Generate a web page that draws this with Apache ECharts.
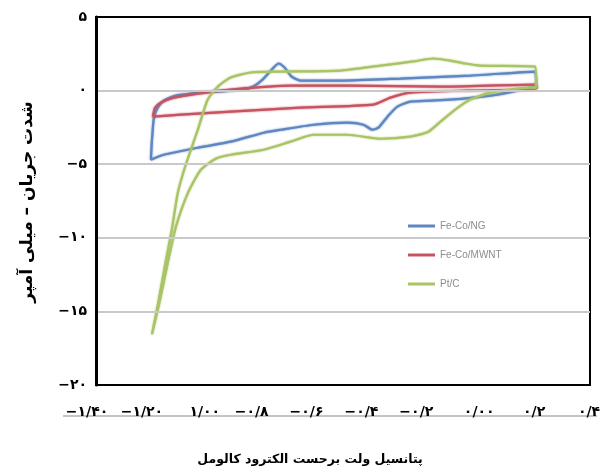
<!DOCTYPE html>
<html>
<head>
<meta charset="utf-8">
<script src="https://cdn.jsdelivr.net/npm/echarts@6/dist/echarts.min.js"></script>
<style>
  html, body { margin: 0; padding: 0; background: #ffffff; }
  #chart { width: 608px; height: 475px; }
</style>
</head>
<body>
<div id="chart"></div>
<script>
// Cyclic voltammograms: potential (V vs. SCE) against current (mA)
const seriesNames = ['Fe-Co/NG', 'Fe-Co/MWNT', 'Pt/C'];

const feCoNG = [
  [-1.200, -4.70], [-1.196, -3.34], [-1.189, -1.84], [-1.175, -1.16], [-1.153, -0.68],
  [-1.109, -0.34], [-1.018, -0.14], [-0.909, 0.00], [-0.836, 0.20], [-0.793, 0.75],
  [-0.756, 1.50], [-0.735, 1.84], [-0.713, 1.57], [-0.687, 0.95], [-0.655, 0.68],
  [-0.509, 0.68], [-0.291, 0.82], [-0.036, 1.02], [0.200, 1.29], [0.204, 0.34],
  [0.182, 0.20], [0.062, -0.27], [-0.062, -0.54], [-0.182, -0.68], [-0.255, -0.75],
  [-0.302, -1.09], [-0.338, -1.77], [-0.371, -2.52], [-0.393, -2.66], [-0.425, -2.32],
  [-0.484, -2.18], [-0.607, -2.32], [-0.727, -2.66], [-0.789, -2.86], [-0.909, -3.47],
  [-1.029, -3.88], [-1.153, -4.36], [-1.200, -4.70]
];

const feCoMWNT = [
  [-1.193, -1.77], [-1.185, -1.16], [-1.164, -0.82], [-1.116, -0.48], [-1.029, -0.20],
  [-0.909, 0.07], [-0.691, 0.34], [-0.473, 0.34], [-0.145, 0.27], [0.200, 0.41],
  [0.207, 0.20], [0.182, 0.07], [-0.047, 0.00], [-0.255, -0.14], [-0.327, -0.48],
  [-0.389, -0.95], [-0.655, -1.16], [-0.909, -1.43], [-1.091, -1.63], [-1.193, -1.77]
];

const ptC = [
  [-1.196, -16.55], [-1.175, -14.58], [-1.145, -11.51], [-1.124, -9.47], [-1.102, -6.95],
  [-1.073, -5.04], [-1.029, -2.66], [-0.993, -0.61], [-0.956, 0.27], [-0.909, 0.89],
  [-0.836, 1.23], [-0.738, 1.29], [-0.509, 1.36], [-0.364, 1.70], [-0.244, 1.98],
  [-0.171, 2.18], [-0.109, 2.04], [-0.055, 1.84], [0.000, 1.70], [0.200, 1.63],
  [0.204, 0.20], [0.182, 0.20], [0.036, -0.14], [-0.036, -0.61], [-0.091, -1.29],
  [-0.145, -2.11], [-0.189, -2.79], [-0.255, -3.13], [-0.364, -3.27], [-0.484, -3.00],
  [-0.607, -3.00], [-0.691, -3.47], [-0.789, -4.02], [-0.909, -4.36], [-0.964, -4.63],
  [-1.018, -5.38], [-1.065, -6.95], [-1.109, -9.26], [-1.138, -11.65], [-1.171, -14.58],
  [-1.196, -16.55]
];

const xTicks = [-1.4, -1.2, -1.0, -0.8, -0.6, -0.4, -0.2, 0.0, 0.2, 0.4];
const xTickLabels = ['−۱/۴۰', '−۱/۲۰', '۱/۰۰', '−۰/۸', '−۰/۶', '−۰/۴', '−۰/۲', '۰/۰۰', '۰/۲', '۰/۴'];
const yTicks = [5, 0, -5, -10, -15, -20];
const yTickLabels = ['۵', '۰', '−۵', '−۱۰', '−۱۵', '−۲۰'];

const xTitle = 'پتانسیل ولت برحست الکترود کالومل';
const yTitle = 'شدت جریان – میلی آمپر';

const lineColors = ['#5e87c2', '#c65460', '#a9c466'];

function tickIndex(ticks, v) {
  return ticks.findIndex(t => Math.abs(t - v) < 1e-6);
}

const chart = echarts.init(document.getElementById('chart'), null, { renderer: 'canvas' });

chart.setOption({
  animation: false,
  backgroundColor: '#ffffff',
  grid: {
    left: 96, right: 18, top: 17, bottom: 90, containLabel: false,
    show: true, borderColor: '#000000', borderWidth: 2, backgroundColor: 'transparent'
  },
  xAxis: {
    type: 'value', min: -1.4, max: 0.4, interval: 0.2,
    position: 'bottom', offset: 30, z: 3,
    axisLine: { show: false },
    axisTick: { show: false },
    splitLine: { show: false },
    axisLabel: {
      inside: true, margin: -4,
      fontFamily: 'DejaVu Sans', fontWeight: 'bold', fontSize: 14, color: '#000000',
      formatter: v => {
        const i = tickIndex(xTicks, v);
        if (i < 0) return '';
        const s = xTickLabels[i];
        return s.charAt(0) === '−' ? '{n|' + s + '}' : '{p|' + s + '}';
      },
      rich: { n: { padding: [0, 18, 0, 0] }, p: { padding: [0, 2, 0, 0] } }
    }
  },
  yAxis: {
    type: 'value', min: -20, max: 5, interval: 5,
    position: 'left', z: 5,
    axisLine: { show: true, onZero: false, lineStyle: { color: '#000000', width: 3 } },
    axisTick: { show: false },
    splitLine: {
      show: true, showMinLine: false, showMaxLine: false,
      lineStyle: { color: '#c9c9c9', width: 2 }
    },
    axisLabel: {
      margin: 9,
      fontFamily: 'DejaVu Sans', fontWeight: 'bold', fontSize: 14, color: '#000000',
      formatter: v => {
        const i = tickIndex(yTicks, v);
        return i < 0 ? '' : yTickLabels[i];
      }
    }
  },
  legend: {
    orient: 'vertical', left: 403, top: 216,
    icon: 'rect', itemWidth: 27, itemHeight: 3, itemGap: 19,
    textStyle: { fontFamily: 'Liberation Sans', fontSize: 10, color: '#8c8c8c' },
    data: seriesNames
  },
  graphic: [
    {
      // rule running under the potential tick labels
      type: 'line', z: 1, silent: true,
      shape: { x1: 63, y1: 416, x2: 597, y2: 416 },
      style: { stroke: '#c4c4c4', lineWidth: 2 }
    },
    {
      type: 'text', x: 310, y: 460, z: 10,
      style: {
        text: xTitle, align: 'center', verticalAlign: 'middle',
        font: 'bold 12.5px "DejaVu Sans"', fill: '#000000'
      }
    },
    {
      type: 'text', x: 28, y: 202, z: 10, rotation: Math.PI / 2,
      style: {
        text: yTitle, align: 'center', verticalAlign: 'middle',
        font: 'bold 17px "DejaVu Sans"', fill: '#000000'
      }
    }
  ],
  series: [feCoNG, feCoMWNT, ptC].map((d, i) => ({
    name: seriesNames[i],
    type: 'line',
    data: d,
    showSymbol: false,
    smooth: 0.2,
    color: lineColors[i],
    lineStyle: { width: 2.2, color: lineColors[i], shadowBlur: 2, shadowColor: lineColors[i] },
    z: 2
  }))
});
</script>
</body>
</html>
